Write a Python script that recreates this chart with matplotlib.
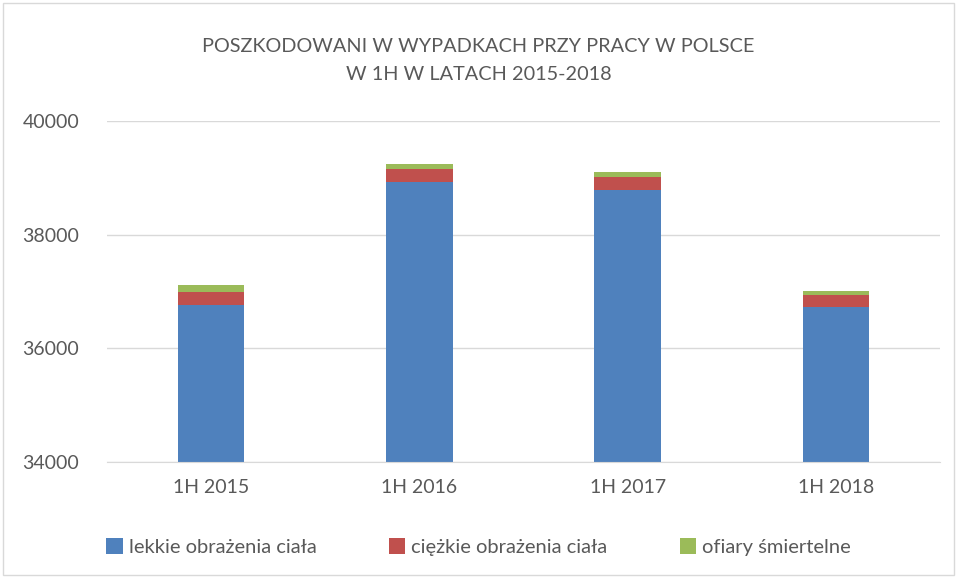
import matplotlib
matplotlib.use("Agg")
import matplotlib.pyplot as plt
from matplotlib.patches import Rectangle
import numpy as np

categories = ["1H 2015", "1H 2016", "1H 2017", "1H 2018"]
lekkie = [36763, 38927, 38781, 36733]
ciezkie = [223, 223, 229, 200]
smiertelne = [129, 88, 88, 76]
series_names = ["lekkie obrażenia ciała", "ciężkie obrażenia ciała", "ofiary śmiertelne"]
colors = ["#4f81bd", "#c0504d", "#9bbb59"]
yticks = [34000, 36000, 38000, 40000]

plt.rcParams['font.family'] = ['Lato', 'DejaVu Sans']

fig = plt.figure(figsize=(9.57, 5.78), dpi=100)
ax = fig.add_axes([107/957, 1 - 462/578, (940-107)/957, (462-121)/578])

x = np.arange(len(categories))
w = 0.32
base = 34000
b1 = np.array(lekkie) - base
ax.bar(x, b1, w, bottom=base, color=colors[0], label=series_names[0])
ax.bar(x, ciezkie, w, bottom=np.array(lekkie), color=colors[1], label=series_names[1])
ax.bar(x, smiertelne, w, bottom=np.array(lekkie) + np.array(ciezkie), color=colors[2], label=series_names[2])

ax.set_ylim(34000, 40000)
ax.set_xlim(-0.5, len(categories) - 0.5)
ax.set_yticks(yticks)
ax.set_yticklabels([str(v) for v in yticks])
ax.set_xticks(x)
ax.set_xticklabels(categories)
ax.yaxis.grid(True, color="#d9d9d9", linewidth=1)
ax.set_axisbelow(True)
for s in ["left", "right", "top"]:
    ax.spines[s].set_visible(False)
ax.spines["bottom"].set_color("#d9d9d9")
ax.tick_params(axis="both", length=0, labelsize=14, labelcolor="#595959")
ax.tick_params(axis="y", pad=20)
ax.tick_params(axis="x", pad=12)

fig.text(0.5, 1 - 47/578, "POSZKODOWANI W WYPADKACH PRZY PRACY W POLSCE", ha="center", va="center",
         fontsize=14.3, color="#595959")
fig.text(0.5, 1 - 74/578, "W 1H W LATACH 2015-2018", ha="center", va="center",
         fontsize=14.3, color="#595959")

leg = fig.legend(loc="center", bbox_to_anchor=(0.5, 1 - 547/578), ncol=3, frameon=False,
                 fontsize=14.5, handlelength=0.8, handleheight=0.8, handletextpad=0.3,
                 columnspacing=3.6, labelcolor="#595959")

fig.patches.append(Rectangle((3/957, 3/578), 1 - 6/957, 1 - 6/578, transform=fig.transFigure,
                             fill=False, edgecolor="#d9d9d9", linewidth=1))

fig.savefig("out.png", dpi=100)
